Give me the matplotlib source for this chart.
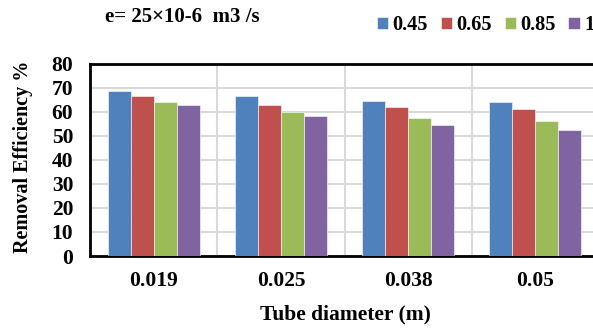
import numpy as np
import matplotlib.pyplot as plt

# values
diameters = ['0.019', '0.025', '0.038', '0.05']
series_names = ['0.45', '0.65', '0.85', '1']
eff_045 = [68.6, 66.5, 64.3, 63.8]
eff_065 = [66.5, 62.9, 61.9, 60.9]
eff_085 = [64.0, 59.9, 57.2, 56.2]
eff_1 = [62.9, 58.3, 54.4, 52.3]

colors = ['#4F81BD', '#C0504D', '#9BBB59', '#8064A2']

plt.rcParams['font.family'] = ['Liberation Serif', 'DejaVu Serif']
plt.rcParams['font.weight'] = 'bold'

fig = plt.figure(figsize=(5.93, 3.31), dpi=100)
# plot area runs past the right edge, as in the reference
ax = fig.add_axes([90 / 593, 75 / 331, 509 / 593, 192.5 / 331])

x = np.arange(len(diameters))
w = 0.181
all_series = [eff_045, eff_065, eff_085, eff_1]
for i, vals in enumerate(all_series):
    ax.bar(x + (i - 1.5) * w, vals, w, color=colors[i], label=series_names[i],
           edgecolor='white', linewidth=0.4, zorder=3)

ax.set_xlim(-0.5, 3.5)
ax.set_ylim(0, 80)
ax.set_yticks(np.arange(0, 81, 10))
ax.set_xticks(x)
ax.set_xticklabels(diameters)
ax.set_xticks(np.arange(0.5, 3.5, 1), minor=True)
ax.tick_params(axis='both', which='both', length=0, labelsize=15.5)
ax.tick_params(axis='x', pad=11)
ax.tick_params(axis='y', pad=12)
ax.grid(axis='y', color='#D9D9D9', linewidth=1.5, zorder=0)
ax.grid(axis='x', which='minor', color='#D9D9D9', linewidth=1.5, zorder=0)

for side in ['top', 'left', 'bottom']:
    ax.spines[side].set_linewidth(2)
    ax.spines[side].set_color('black')
ax.spines['right'].set_visible(False)

ax.set_xlabel('Tube diameter (m)', fontsize=15.5, fontweight='bold', va='center')
ax.xaxis.set_label_coords(0.501, -0.306)
ax.set_ylabel('Removal Efficiency %', fontsize=14.5, fontweight='bold', va='center')
ax.yaxis.set_label_coords(-0.1316, 0.517)

fig.text(105 / 593, 1 - 17 / 331, 'e= 25×10-6  m3 /s', fontsize=15,
         fontweight='bold', va='center', ha='left')

fig.legend(loc='center left', bbox_to_anchor=(377 / 593, 1 - 25 / 331), ncol=4,
           frameon=False, fontsize=14.7, handlelength=0.55, handleheight=0.55,
           handletextpad=0.22, columnspacing=0.62, borderpad=0, borderaxespad=0)

fig.savefig('out.png', dpi=100)
